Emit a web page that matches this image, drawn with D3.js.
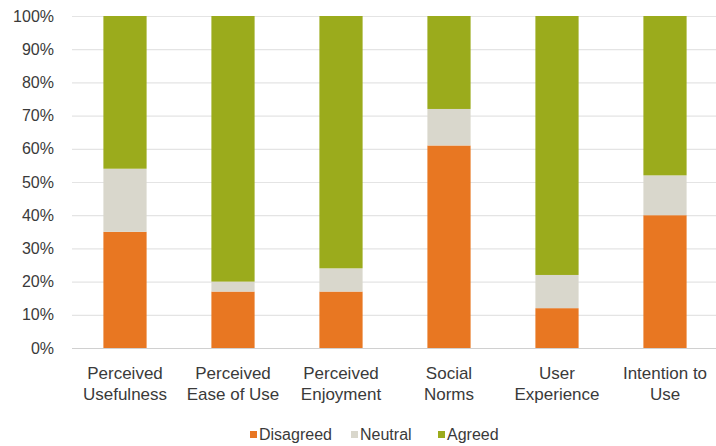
<!DOCTYPE html>
<html><head><meta charset="utf-8">
<script src="https://cdn.jsdelivr.net/npm/d3@7"></script>
<style>body{margin:0;background:#fff}svg{display:block}text{font-family:"Liberation Sans",Arial,sans-serif;fill:#3a3a3a}</style>
</head><body>
<svg id="c" width="716" height="446"></svg>
<script>
const categories = [["Perceived","Usefulness"],["Perceived","Ease of Use"],["Perceived","Enjoyment"],["Social","Norms"],["User","Experience"],["Intention to","Use"]];
const disagreed = [35,17,17,61,12,40];
const neutral   = [19,3,7,11,10,12];
const agreed    = [46,80,76,28,78,48];
const seriesNames = ["Disagreed","Neutral","Agreed"];
const colors = ["#E87722","#D9D7CC","#9BAB1C"];
const yTicks = [0,10,20,30,40,50,60,70,80,90,100];

const svg = d3.select("#c");
const keys = categories.map(c=>c.join(" "));
const rows = keys.map((k,i)=>({key:k,Disagreed:disagreed[i],Neutral:neutral[i],Agreed:agreed[i]}));
const stack = d3.stack().keys(seriesNames)(rows);

const x = d3.scaleBand().domain(keys).range([71,719]).paddingInner(0.6).paddingOuter(0.3);
const y = d3.scaleLinear().domain([0,100]).range([348,16]);

// gridlines
svg.append("g").selectAll("line").data(yTicks).join("line")
  .attr("x1",72).attr("x2",716).attr("y1",d=>y(d)+0.5).attr("y2",d=>y(d)+0.5)
  .attr("stroke",d=>d===0?"#D0D0D0":"#E4E4E4").attr("stroke-width",1.2);

// y labels
svg.append("g").selectAll("text").data(yTicks).join("text")
  .attr("x",54).attr("y",d=>y(d)).attr("dy","0.35em").attr("text-anchor","end")
  .style("font-size","16px").text(d=>d+"%");

// bars
svg.append("g").selectAll("g").data(stack).join("g").attr("fill",(d,i)=>colors[i])
  .selectAll("rect").data(d=>d).join("rect")
  .attr("x",d=>x(d.data.key)).attr("width",x.bandwidth())
  .attr("y",d=>y(d[1])).attr("height",d=>y(d[0])-y(d[1]));

// category labels
const cl = svg.append("g").selectAll("text").data(categories).join("text")
  .attr("text-anchor","middle").style("font-size","17px")
  .attr("transform",(d,i)=>`translate(${x(keys[i])+x.bandwidth()/2},379)`);
cl.selectAll("tspan").data(d=>d).join("tspan").attr("x",0).attr("y",(d,j)=>j*21).text(d=>d);

// legend
const legX = [250,351,438];
const lg = svg.append("g").selectAll("g").data(seriesNames).join("g")
  .attr("transform",(d,i)=>`translate(${legX[i]},0)`);
lg.append("rect").attr("x",0).attr("y",431).attr("width",7).attr("height",7).attr("fill",(d,i)=>colors[i]);
lg.append("text").attr("x",9).attr("y",440).style("font-size","16px").text(d=>d);
</script>
</body></html>
